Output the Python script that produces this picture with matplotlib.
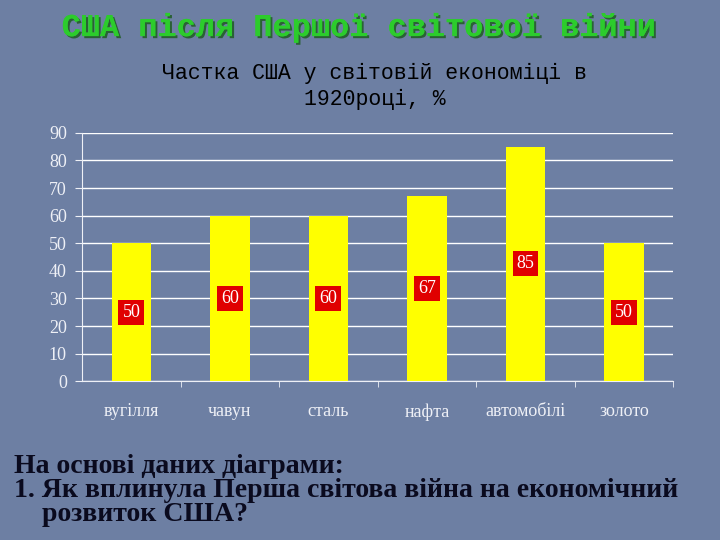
import matplotlib
matplotlib.use("Agg")
import matplotlib.pyplot as plt
import matplotlib.patheffects as pe
from matplotlib.ticker import MultipleLocator, FixedLocator

# data
categories = ["вугілля", "чавун", "сталь", "нафта", "автомобілі", "золото"]
shares = [50, 60, 60, 67, 85, 50]

title = "США після Першої світової війни"
subtitle = "Частка США у світовій економіці в\n1920році, %"
question = ["На основі даних діаграми:",
            "1. Як вплинула Перша світова війна на економічний",
            "    розвиток США?"]

bg = "#6d7fa3"
light = "#eef0f6"

fig = plt.figure(figsize=(7.2, 5.4), dpi=100, facecolor=bg)
ax = fig.add_axes([0.114, 0.294, 0.821, 0.46], facecolor=bg)

x = list(range(len(categories)))
ax.bar(x, shares, width=0.4, color="#ffff00", zorder=3)

# value labels in red boxes, halfway up each bar
for xi, v in zip(x, shares):
    ax.text(xi, v / 2, str(v), ha="center", va="center", color="white",
            fontsize=13, family="Liberation Serif", zorder=4,
            bbox=dict(boxstyle="square,pad=0.22", fc="#e00000", ec="none"))

ax.set_xlim(-0.5, len(categories) - 0.5)
ax.set_ylim(0, 90)
ax.yaxis.set_major_locator(MultipleLocator(10))
ax.grid(axis="y", color="white", linewidth=1, zorder=1)

for side in ["top", "right"]:
    ax.spines[side].set_visible(False)
ax.spines["left"].set_color(light)
ax.spines["bottom"].set_color(light)

ax.set_xticks(x)
ax.set_xticklabels(categories, family="Liberation Serif", fontsize=13, color=light)
ax.tick_params(axis="x", which="major", length=0, pad=16)
ax.xaxis.set_minor_locator(FixedLocator([i + 0.5 for i in x]))
ax.tick_params(axis="x", which="minor", length=4, color=light, direction="out")
ax.tick_params(axis="y", labelsize=13, labelcolor=light, color=light, length=5, pad=6)
for lbl in ax.get_yticklabels():
    lbl.set_family("Liberation Serif")

# slide title with a slight dark shadow
fig.text(0.5, 0.948, title, ha="center", va="center", fontsize=23,
         family="Liberation Mono", weight="bold", color="#2ccc2c",
         path_effects=[pe.withSimplePatchShadow(offset=(1.5, -1.5),
                                                shadow_rgbFace="#1a5a1a", alpha=0.8),
                       pe.Normal()])

fig.text(0.52, 0.84, subtitle, ha="center", va="center", fontsize=15.5,
         family="Liberation Mono", color="black", linespacing=1.25)

for i, line in enumerate(question):
    fig.text(0.02, 0.137 - i * 0.045, line, ha="left", va="center", fontsize=20,
             family="Liberation Serif", weight="bold", color="#0a0a1e")

fig.savefig("out.png", dpi=100, facecolor=bg)
